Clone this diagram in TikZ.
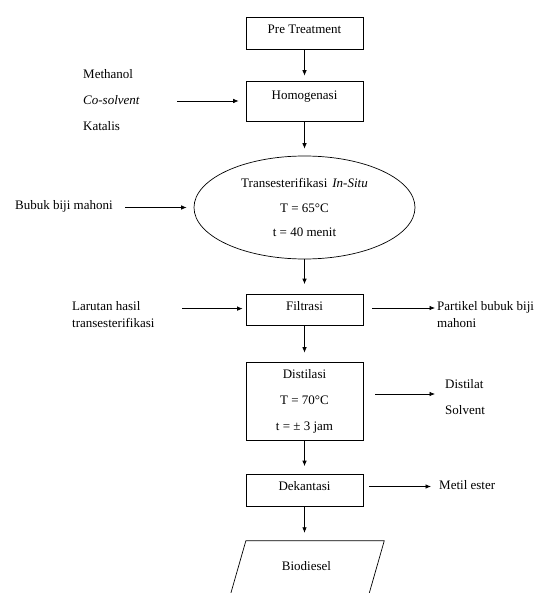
\documentclass[tikz,border=0pt]{standalone}
\usepackage{fontspec}
\setmainfont{Liberation Serif}
\usetikzlibrary{shapes, arrows.meta, positioning, calc}

\begin{document}
\begin{tikzpicture}[x=1pt, y=-1pt,
        every node/.style={font=\fontsize{13}{17}\selectfont},
        kotak/.style={draw, line width=0.7pt, minimum width=117pt, inner sep=0pt},
        proc/.style={kotak, minimum height=32pt, text height=9pt, text depth=8pt},
        reak/.style={draw, ellipse, line width=0.7pt, minimum width=221pt, minimum height=103pt, inner sep=0pt, align=center, font=\fontsize{13}{24.5}\selectfont},
        hasil/.style={minimum width=138pt, minimum height=60pt, inner sep=0pt, text height=9pt, text depth=10pt},
        ket/.style={anchor=west, inner sep=0pt, align=left},
        arr/.style={-{Latex[length=5.5pt, width=4.5pt]}, line width=0.7pt}
    ]
    \useasboundingbox (0,0) rectangle (547,593);

    % Proses utama
    \node[proc] (pre) at (304.5,33) {Pre Treatment};
    \node[proc, minimum height=40pt, text depth=12pt] (homo) at (304.5,101) {Homogenasi};
    \node[reak] (trans) at (304.5,207.5) {Transesterifikasi\hspace{5pt}\textit{In-Situ}\\T = 65°C\\t = 40 menit};
    \node[proc, minimum height=31pt] (filt) at (304.5,310) {Filtrasi};
    \node[kotak, minimum height=78pt, align=center, font=\fontsize{13}{26}\selectfont] (dist) at (304.5,401) {Distilasi\\T = 70°C\\t = ± 3 jam};
    \node[proc] (dek) at (304.5,490) {Dekantasi};
    \node[hasil] (bio) at (306.4,571) {Biodiesel};
    % jajar genjang Biodiesel
    \draw[line width=0.7pt] ([xshift=8.65pt]bio.north west) -- ([xshift=8.65pt]bio.north east)
        -- ([xshift=-8.65pt]bio.south east) -- ([xshift=-8.65pt]bio.south west) -- cycle;

    % Bahan masuk
    \node[ket, font=\fontsize{13}{26}\selectfont] (bahan) at (83,100) {Methanol\\\textit{Co-solvent}\\Katalis};
    \node[ket, text height=9pt, text depth=0pt] (bubuk) at (15,205) {Bubuk biji mahoni};
    \node[ket] (larutan) at (72,314.5) {Larutan hasil\\transesterifikasi};

    % Hasil samping
    \node[ket] (partikel) at (437,314.5) {Partikel bubuk biji\\mahoni};
    \node[ket, font=\fontsize{13}{26}\selectfont] (distilat) at (445,397) {Distilat\\Solvent};
    \node[ket, text height=9pt, text depth=0pt] (metil) at (439,485) {Metil ester};

    % Ujung panah
    \coordinate (inA) at (177,101);
    \coordinate (inB) at (125,207.5);
    \coordinate (inC) at (182,308.6);
    \coordinate (outA) at (435,308);
    \coordinate (outB) at (435,394);
    \coordinate (outC) at (431,486.5);

    % Arrows
    \draw[arr, shorten >=5pt] (pre) -- (homo);
    \draw[arr, shorten >=7pt] (homo) -- (trans);
    \draw[arr, shorten >=10pt] (trans) -- (filt);
    \draw[arr, shorten >=9pt] (filt) -- (dist);
    \draw[arr, shorten >=7.5pt] (dist) -- (dek);
    \draw[arr, shorten >=8pt] (dek) -- (dek |- bio.north);

    \draw[arr, shorten >=7pt] (inA) -- (homo);
    \draw[arr, shorten >=7pt] (inB) -- (trans);
    \draw[arr, shorten >=3pt] (inC) -- (inC -| filt.west);

    \draw[arr, shorten <=9pt] (filt.east |- outA) -- (outA);
    \draw[arr, shorten <=12pt] (dist.east |- outB) -- (outB);
    \draw[arr, shorten <=6pt] (dek.east |- outC) -- (outC);
\end{tikzpicture}
\end{document}
